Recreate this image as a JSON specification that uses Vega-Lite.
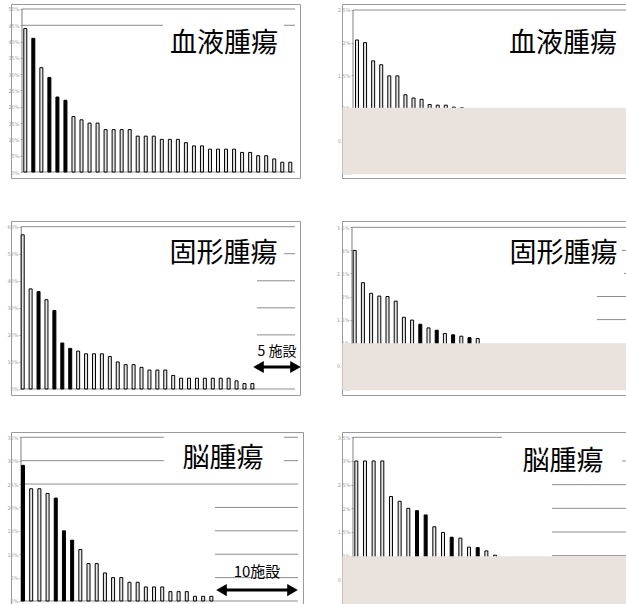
{
 "$schema": "https://vega.github.io/schema/vega-lite/v6.json",
 "padding": {"left": 6, "top": 3, "right": 0, "bottom": 0},
 "background": "white",
 "spacing": 35,
 "datasets": {
  "b1": [{"i":1,"v":44,"k":"w"},{"i":2,"v":41,"k":"b"},{"i":3,"v":32,"k":"w"},{"i":4,"v":29,"k":"b"},{"i":5,"v":23,"k":"b"},{"i":6,"v":22,"k":"b"},{"i":7,"v":17,"k":"w"},{"i":8,"v":16,"k":"w"},{"i":9,"v":15,"k":"w"},{"i":10,"v":15,"k":"w"},{"i":11,"v":13,"k":"w"},{"i":12,"v":13,"k":"w"},{"i":13,"v":13,"k":"w"},{"i":14,"v":13,"k":"w"},{"i":15,"v":11,"k":"w"},{"i":16,"v":11,"k":"w"},{"i":17,"v":11,"k":"w"},{"i":18,"v":10,"k":"w"},{"i":19,"v":10,"k":"w"},{"i":20,"v":10,"k":"w"},{"i":21,"v":9,"k":"w"},{"i":22,"v":8,"k":"w"},{"i":23,"v":8,"k":"w"},{"i":24,"v":7,"k":"w"},{"i":25,"v":7,"k":"w"},{"i":26,"v":7,"k":"w"},{"i":27,"v":7,"k":"w"},{"i":28,"v":6,"k":"w"},{"i":29,"v":6,"k":"w"},{"i":30,"v":5,"k":"w"},{"i":31,"v":5,"k":"w"},{"i":32,"v":4,"k":"w"},{"i":33,"v":3,"k":"w"},{"i":34,"v":3,"k":"w"}],
  "b2": [{"i":1,"v":2.04,"k":"w"},{"i":2,"v":2.0,"k":"w"},{"i":3,"v":1.72,"k":"w"},{"i":4,"v":1.66,"k":"w"},{"i":5,"v":1.49,"k":"w"},{"i":6,"v":1.49,"k":"w"},{"i":7,"v":1.2,"k":"w"},{"i":8,"v":1.15,"k":"w"},{"i":9,"v":1.13,"k":"w"},{"i":10,"v":1.05,"k":"w"},{"i":11,"v":1.04,"k":"w"},{"i":12,"v":1.04,"k":"w"},{"i":13,"v":1.01,"k":"w"},{"i":14,"v":1.0,"k":"w"}],
  "b3": [{"i":1,"v":57,"k":"w"},{"i":2,"v":37,"k":"w"},{"i":3,"v":36,"k":"b"},{"i":4,"v":33,"k":"w"},{"i":5,"v":29,"k":"b"},{"i":6,"v":17,"k":"b"},{"i":7,"v":15,"k":"b"},{"i":8,"v":14,"k":"w"},{"i":9,"v":13,"k":"w"},{"i":10,"v":13,"k":"w"},{"i":11,"v":13,"k":"w"},{"i":12,"v":12,"k":"w"},{"i":13,"v":10,"k":"w"},{"i":14,"v":9,"k":"w"},{"i":15,"v":9,"k":"w"},{"i":16,"v":8,"k":"w"},{"i":17,"v":7,"k":"w"},{"i":18,"v":7,"k":"w"},{"i":19,"v":7,"k":"w"},{"i":20,"v":5,"k":"w"},{"i":21,"v":4,"k":"w"},{"i":22,"v":4,"k":"w"},{"i":23,"v":4,"k":"w"},{"i":24,"v":4,"k":"w"},{"i":25,"v":4,"k":"w"},{"i":26,"v":4,"k":"w"},{"i":27,"v":4,"k":"w"},{"i":28,"v":3,"k":"w"},{"i":29,"v":2,"k":"w"},{"i":30,"v":2,"k":"w"}],
  "b4": [{"i":1,"v":3.0,"k":"w"},{"i":2,"v":2.3,"k":"w"},{"i":3,"v":2.07,"k":"w"},{"i":4,"v":2.01,"k":"w"},{"i":5,"v":2.0,"k":"w"},{"i":6,"v":1.9,"k":"w"},{"i":7,"v":1.55,"k":"w"},{"i":8,"v":1.49,"k":"w"},{"i":9,"v":1.4,"k":"b"},{"i":10,"v":1.32,"k":"w"},{"i":11,"v":1.27,"k":"b"},{"i":12,"v":1.2,"k":"w"},{"i":13,"v":1.17,"k":"b"},{"i":14,"v":1.14,"k":"w"},{"i":15,"v":1.11,"k":"b"},{"i":16,"v":1.09,"k":"w"}],
  "b5": [{"i":1,"v":29,"k":"b"},{"i":2,"v":24,"k":"w"},{"i":3,"v":24,"k":"w"},{"i":4,"v":23,"k":"w"},{"i":5,"v":22,"k":"b"},{"i":6,"v":15,"k":"b"},{"i":7,"v":13,"k":"b"},{"i":8,"v":11,"k":"w"},{"i":9,"v":8,"k":"w"},{"i":10,"v":8,"k":"w"},{"i":11,"v":6,"k":"w"},{"i":12,"v":5,"k":"w"},{"i":13,"v":5,"k":"w"},{"i":14,"v":4,"k":"w"},{"i":15,"v":4,"k":"w"},{"i":16,"v":3,"k":"w"},{"i":17,"v":3,"k":"w"},{"i":18,"v":3,"k":"w"},{"i":19,"v":2,"k":"w"},{"i":20,"v":2,"k":"w"},{"i":21,"v":2,"k":"w"},{"i":22,"v":1,"k":"w"},{"i":23,"v":1,"k":"w"},{"i":24,"v":1,"k":"w"}],
  "b6": [{"i":1,"v":3.0,"k":"w"},{"i":2,"v":3.0,"k":"w"},{"i":3,"v":3.0,"k":"w"},{"i":4,"v":3.0,"k":"w"},{"i":5,"v":2.25,"k":"w"},{"i":6,"v":2.15,"k":"w"},{"i":7,"v":2.0,"k":"w"},{"i":8,"v":1.95,"k":"b"},{"i":9,"v":1.86,"k":"b"},{"i":10,"v":1.61,"k":"w"},{"i":11,"v":1.49,"k":"w"},{"i":12,"v":1.39,"k":"b"},{"i":13,"v":1.37,"k":"w"},{"i":14,"v":1.18,"k":"w"},{"i":15,"v":1.17,"k":"b"},{"i":16,"v":1.1,"k":"w"},{"i":17,"v":1.01,"k":"w"}]
 },
 "vconcat": [
  {"spacing": 41, "vconcat": [
   {"bounds": "flush", "spacing": 42, "hconcat": [
    {"width": 289, "height": 174, "layer": [
     {"data": {"values": [{"v":50,"a":0.589,"b":34.59},{"v":45,"a":0.589,"b":18.15},{"v":45,"a":33.22,"b":34.59},{"v":0,"a":0.589,"b":34.59}]},
      "mark": {"type": "rule", "color": "#8c8c8c", "strokeWidth": 1},
      "encoding": {
       "x": {"field": "a", "type": "quantitative", "scale": {"domain": [-0.78, 35.21], "nice": false, "zero": false, "padding": 0}, "axis": null, "title": null},
       "x2": {"field": "b"},
       "y": {"field": "v", "type": "quantitative", "scale": {"domain": [-1.84, 51.53], "nice": false, "zero": false, "padding": 0}, "axis": {"values": [0,5,10,15,20,25,30,35,40,45,50], "offset": -11, "labelOverlap": false, "labelExpr": "datum.value + '%'", "title": null}}}},
     {"data": {"values": [{}]}, "mark": {"type": "rule", "color": "#808080"},
      "encoding": {"x": {"datum": 0.589, "axis": null}, "y": {"datum": 0, "axis": {"values": [0,5,10,15,20,25,30,35,40,45,50], "offset": -11, "labelOverlap": false, "labelExpr": "datum.value + '%'", "title": null}}, "y2": {"datum": 50}}},
     {"data": {"name": "b1"}, "mark": {"type": "bar", "width": 3, "stroke": "#000", "strokeWidth": 1},
      "encoding": {"x": {"field": "i", "type": "quantitative", "axis": null, "title": null}, "y": {"field": "v", "type": "quantitative", "axis": {"values": [0,5,10,15,20,25,30,35,40,45,50], "offset": -11, "labelOverlap": false, "labelExpr": "datum.value + '%'", "title": null}}, "y2": {"datum": 0},
       "fill": {"field": "k", "type": "nominal", "scale": {"domain": ["w","b"], "range": ["#e6e6e6","#000000"]}, "legend": null}}},
     {"data": {"values": [{"t": "血液腫瘍"}]}, "mark": {"type": "text", "fontSize": 27, "font": "Noto Sans CJK JP", "color": "#000"},
      "encoding": {"x": {"datum": 25.74, "axis": null}, "y": {"datum": 39.26, "axis": {"values": [0,5,10,15,20,25,30,35,40,45,50], "offset": -11, "labelOverlap": false, "labelExpr": "datum.value + '%'", "title": null}}, "text": {"field": "t"}}}
    ]},
    {"width": 287, "height": 174, "layer": [
     {"data": {"values": [{"v":2.5,"a":0.504,"b":34.7}]},
      "mark": {"type": "rule", "color": "#8c8c8c", "strokeWidth": 1},
      "encoding": {
       "x": {"field": "a", "type": "quantitative", "scale": {"domain": [-0.859, 34.7], "nice": false, "zero": false, "padding": 0}, "axis": null, "title": null},
       "x2": {"field": "b"},
       "y": {"field": "v", "type": "quantitative", "scale": {"domain": [-0.077, 2.592], "nice": false, "zero": false, "padding": 0}, "axis": {"values": [0,0.5,1,1.5,2,2.5], "offset": -11, "labelOverlap": false, "labelExpr": "datum.value + '%'", "title": null}}}},
     {"data": {"values": [{}]}, "mark": {"type": "rule", "color": "#808080"},
      "encoding": {"x": {"datum": 0.504, "axis": null}, "y": {"datum": 0, "axis": {"values": [0,0.5,1,1.5,2,2.5], "offset": -11, "labelOverlap": false, "labelExpr": "datum.value + '%'", "title": null}}, "y2": {"datum": 2.5}}},
     {"data": {"name": "b2"}, "mark": {"type": "bar", "width": 3, "stroke": "#000", "strokeWidth": 1},
      "encoding": {"x": {"field": "i", "type": "quantitative", "axis": null, "title": null}, "y": {"field": "v", "type": "quantitative", "axis": {"values": [0,0.5,1,1.5,2,2.5], "offset": -11, "labelOverlap": false, "labelExpr": "datum.value + '%'", "title": null}}, "y2": {"datum": 0},
       "fill": {"field": "k", "type": "nominal", "scale": {"domain": ["w","b"], "range": ["#e6e6e6","#000000"]}, "legend": null}}},
     {"data": {"values": [{}]}, "mark": {"type": "rect", "color": "#eae2dc"},
      "encoding": {"x": {"datum": -0.8, "axis": null}, "x2": {"datum": 34.7}, "y": {"datum": 1.0, "axis": {"values": [0,0.5,1,1.5,2,2.5], "offset": -11, "labelOverlap": false, "labelExpr": "datum.value + '%'", "title": null}}, "y2": {"datum": -0.02}}},
     {"data": {"values": [{"t": "血液腫瘍"}]}, "mark": {"type": "text", "fontSize": 27, "font": "Noto Sans CJK JP", "color": "#000"},
      "encoding": {"x": {"datum": 26.53, "axis": null}, "y": {"datum": 1.979, "axis": {"values": [0,0.5,1,1.5,2,2.5], "offset": -11, "labelOverlap": false, "labelExpr": "datum.value + '%'", "title": null}}, "text": {"field": "t"}}}
    ]}
   ]},
   {"bounds": "flush", "spacing": 42, "hconcat": [
    {"width": 289, "height": 174, "layer": [
     {"data": {"values": [{"v":60,"a":0.82,"b":35.38},{"v":50,"a":34.0,"b":35.38},{"v":40,"a":30.58,"b":35.38},{"v":30,"a":30.58,"b":35.38},{"v":20,"a":30.58,"b":35.38},{"v":0,"a":0.82,"b":35.38}]},
      "mark": {"type": "rule", "color": "#8c8c8c", "strokeWidth": 1},
      "encoding": {
       "x": {"field": "a", "type": "quantitative", "scale": {"domain": [-0.477, 36.01], "nice": false, "zero": false, "padding": 0}, "axis": null, "title": null},
       "x2": {"field": "b"},
       "y": {"field": "v", "type": "quantitative", "scale": {"domain": [-2.22, 62.1], "nice": false, "zero": false, "padding": 0}, "axis": {"values": [0,10,20,30,40,50,60], "offset": -10, "labelOverlap": false, "labelExpr": "datum.value + '%'", "title": null}}}},
     {"data": {"values": [{}]}, "mark": {"type": "rule", "color": "#808080"},
      "encoding": {"x": {"datum": 0.82, "axis": null}, "y": {"datum": 0, "axis": {"values": [0,10,20,30,40,50,60], "offset": -10, "labelOverlap": false, "labelExpr": "datum.value + '%'", "title": null}}, "y2": {"datum": 60}}},
     {"data": {"name": "b3"}, "mark": {"type": "bar", "width": 3, "stroke": "#000", "strokeWidth": 1},
      "encoding": {"x": {"field": "i", "type": "quantitative", "axis": null, "title": null}, "y": {"field": "v", "type": "quantitative", "axis": {"values": [0,10,20,30,40,50,60], "offset": -10, "labelOverlap": false, "labelExpr": "datum.value + '%'", "title": null}}, "y2": {"datum": 0},
       "fill": {"field": "k", "type": "nominal", "scale": {"domain": ["w","b"], "range": ["#e6e6e6","#000000"]}, "legend": null}}},
     {"data": {"values": [{"t": "固形腫瘍"}]}, "mark": {"type": "text", "fontSize": 27, "font": "Noto Sans CJK JP", "color": "#000"},
      "encoding": {"x": {"datum": 26.35, "axis": null}, "y": {"datum": 49.9, "axis": {"values": [0,10,20,30,40,50,60], "offset": -10, "labelOverlap": false, "labelExpr": "datum.value + '%'", "title": null}}, "text": {"field": "t"}}},
     {"data": {"values": [{}]}, "mark": {"type": "rule", "color": "#000", "strokeWidth": 3},
      "encoding": {"x": {"datum": 30.77, "axis": null}, "x2": {"datum": 35.44}, "y": {"datum": 8.13, "axis": {"values": [0,10,20,30,40,50,60], "offset": -10, "labelOverlap": false, "labelExpr": "datum.value + '%'", "title": null}}}},
     {"data": {"values": [{}]}, "mark": {"type": "point", "shape": "triangle-left", "size": 150, "filled": true, "color": "#000", "opacity": 1},
      "encoding": {"x": {"datum": 30.77, "axis": null}, "y": {"datum": 8.13, "axis": {"values": [0,10,20,30,40,50,60], "offset": -10, "labelOverlap": false, "labelExpr": "datum.value + '%'", "title": null}}}},
     {"data": {"values": [{}]}, "mark": {"type": "point", "shape": "triangle-right", "size": 150, "filled": true, "color": "#000", "opacity": 1},
      "encoding": {"x": {"datum": 35.44, "axis": null}, "y": {"datum": 8.13, "axis": {"values": [0,10,20,30,40,50,60], "offset": -10, "labelOverlap": false, "labelExpr": "datum.value + '%'", "title": null}}}},
     {"data": {"values": [{"t": "5 施設"}]}, "mark": {"type": "text", "fontSize": 14, "font": "Noto Sans CJK JP", "color": "#000"},
      "encoding": {"x": {"datum": 33.11, "axis": null}, "y": {"datum": 13.79, "axis": {"values": [0,10,20,30,40,50,60], "offset": -10, "labelOverlap": false, "labelExpr": "datum.value + '%'", "title": null}}, "text": {"field": "t"}}}
    ]},
    {"width": 287, "height": 174, "layer": [
     {"data": {"values": [{"v":3.5,"a":0.67,"b":34.33},{"v":3,"a":33.6,"b":34.33},{"v":2.5,"a":33.84,"b":34.33},{"v":2,"a":30.55,"b":34.33},{"v":1.5,"a":30.55,"b":34.33}]},
      "mark": {"type": "rule", "color": "#8c8c8c", "strokeWidth": 1},
      "encoding": {
       "x": {"field": "a", "type": "quantitative", "scale": {"domain": [-0.549, 34.45], "nice": false, "zero": false, "padding": 0}, "axis": null, "title": null},
       "x2": {"field": "b"},
       "y": {"field": "v", "type": "quantitative", "scale": {"domain": [-0.134, 3.637], "nice": false, "zero": false, "padding": 0}, "axis": {"values": [0,0.5,1,1.5,2,2.5,3,3.5], "offset": -10, "labelOverlap": false, "labelExpr": "datum.value + '%'", "title": null}}}},
     {"data": {"values": [{}]}, "mark": {"type": "rule", "color": "#808080"},
      "encoding": {"x": {"datum": 0.67, "axis": null}, "y": {"datum": 0, "axis": {"values": [0,0.5,1,1.5,2,2.5,3,3.5], "offset": -10, "labelOverlap": false, "labelExpr": "datum.value + '%'", "title": null}}, "y2": {"datum": 3.5}}},
     {"data": {"name": "b4"}, "mark": {"type": "bar", "width": 3, "stroke": "#000", "strokeWidth": 1},
      "encoding": {"x": {"field": "i", "type": "quantitative", "axis": null, "title": null}, "y": {"field": "v", "type": "quantitative", "axis": {"values": [0,0.5,1,1.5,2,2.5,3,3.5], "offset": -10, "labelOverlap": false, "labelExpr": "datum.value + '%'", "title": null}}, "y2": {"datum": 0},
       "fill": {"field": "k", "type": "nominal", "scale": {"domain": ["w","b"], "range": ["#e6e6e6","#000000"]}, "legend": null}}},
     {"data": {"values": [{}]}, "mark": {"type": "rect", "color": "#eae2dc"},
      "encoding": {"x": {"datum": -0.5, "axis": null}, "x2": {"datum": 34.45}, "y": {"datum": 0.99, "axis": {"values": [0,0.5,1,1.5,2,2.5,3,3.5], "offset": -10, "labelOverlap": false, "labelExpr": "datum.value + '%'", "title": null}}, "y2": {"datum": -0.03}}},
     {"data": {"values": [{"t": "固形腫瘍"}]}, "mark": {"type": "text", "fontSize": 27, "font": "Noto Sans CJK JP", "color": "#000"},
      "encoding": {"x": {"datum": 26.46, "axis": null}, "y": {"datum": 2.92, "axis": {"values": [0,0.5,1,1.5,2,2.5,3,3.5], "offset": -10, "labelOverlap": false, "labelExpr": "datum.value + '%'", "title": null}}, "text": {"field": "t"}}}
    ]}
   ]}
  ]},
  {"bounds": "flush", "spacing": 39, "hconcat": [
   {"width": 292, "height": 174, "layer": [
    {"data": {"values": [{"v":35,"a":0.756,"b":18.2},{"v":35,"a":32.87,"b":34.58},{"v":30,"a":0.756,"b":18.2},{"v":30,"a":32.87,"b":34.58},{"v":25,"a":0.756,"b":34.58},{"v":20,"a":24.44,"b":34.58},{"v":15,"a":24.44,"b":34.58},{"v":10,"a":24.44,"b":34.58},{"v":5,"a":24.44,"b":34.58},{"v":0,"a":0.756,"b":34.58}]},
     "mark": {"type": "rule", "color": "#8c8c8c", "strokeWidth": 1},
     "encoding": {
      "x": {"field": "a", "type": "quantitative", "scale": {"domain": [-0.465, 35.19], "nice": false, "zero": false, "padding": 0}, "axis": null, "title": null},
      "x2": {"field": "b"},
      "y": {"field": "v", "type": "quantitative", "scale": {"domain": [-1.07, 36.13], "nice": false, "zero": false, "padding": 0}, "axis": {"values": [0,5,10,15,20,25,30,35], "offset": -10, "labelOverlap": false, "labelExpr": "datum.value + '%'", "title": null}}}},
    {"data": {"values": [{}]}, "mark": {"type": "rule", "color": "#808080"},
     "encoding": {"x": {"datum": 0.756, "axis": null}, "y": {"datum": 0, "axis": {"values": [0,5,10,15,20,25,30,35], "offset": -10, "labelOverlap": false, "labelExpr": "datum.value + '%'", "title": null}}, "y2": {"datum": 35}}},
    {"data": {"name": "b5"}, "mark": {"type": "bar", "width": 3, "stroke": "#000", "strokeWidth": 1},
     "encoding": {"x": {"field": "i", "type": "quantitative", "axis": null, "title": null}, "y": {"field": "v", "type": "quantitative", "axis": {"values": [0,5,10,15,20,25,30,35], "offset": -10, "labelOverlap": false, "labelExpr": "datum.value + '%'", "title": null}}, "y2": {"datum": 0},
      "fill": {"field": "k", "type": "nominal", "scale": {"domain": ["w","b"], "range": ["#e6e6e6","#000000"]}, "legend": null}}},
    {"data": {"values": [{"t": "脳腫瘍"}]}, "mark": {"type": "text", "fontSize": 27, "font": "Noto Sans CJK JP", "color": "#000"},
     "encoding": {"x": {"datum": 25.42, "axis": null}, "y": {"datum": 30.36, "axis": {"values": [0,5,10,15,20,25,30,35], "offset": -10, "labelOverlap": false, "labelExpr": "datum.value + '%'", "title": null}}, "text": {"field": "t"}}},
    {"data": {"values": [{}]}, "mark": {"type": "rule", "color": "#000", "strokeWidth": 3},
     "encoding": {"x": {"datum": 25.24, "axis": null}, "x2": {"datum": 33.91}, "y": {"datum": 2.34, "axis": {"values": [0,5,10,15,20,25,30,35], "offset": -10, "labelOverlap": false, "labelExpr": "datum.value + '%'", "title": null}}}},
    {"data": {"values": [{}]}, "mark": {"type": "point", "shape": "triangle-left", "size": 150, "filled": true, "color": "#000", "opacity": 1},
     "encoding": {"x": {"datum": 25.24, "axis": null}, "y": {"datum": 2.34, "axis": {"values": [0,5,10,15,20,25,30,35], "offset": -10, "labelOverlap": false, "labelExpr": "datum.value + '%'", "title": null}}}},
    {"data": {"values": [{}]}, "mark": {"type": "point", "shape": "triangle-right", "size": 150, "filled": true, "color": "#000", "opacity": 1},
     "encoding": {"x": {"datum": 33.91, "axis": null}, "y": {"datum": 2.34, "axis": {"values": [0,5,10,15,20,25,30,35], "offset": -10, "labelOverlap": false, "labelExpr": "datum.value + '%'", "title": null}}}},
    {"data": {"values": [{"t": "10施設"}]}, "mark": {"type": "text", "fontSize": 15, "font": "Noto Sans CJK JP", "color": "#000"},
     "encoding": {"x": {"datum": 29.57, "axis": null}, "y": {"datum": 6.19, "axis": {"values": [0,5,10,15,20,25,30,35], "offset": -10, "labelOverlap": false, "labelExpr": "datum.value + '%'", "title": null}}, "text": {"field": "t"}}}
   ]},
   {"width": 287, "height": 174, "layer": [
    {"data": {"values": [{"v":3.5,"a":0.62,"b":17.8},{"v":3,"a":31.65,"b":32.34},{"v":2.5,"a":23.57,"b":32.34},{"v":2,"a":23.57,"b":32.34},{"v":1.5,"a":23.57,"b":32.34},{"v":1,"a":23.57,"b":32.34}]},
     "mark": {"type": "rule", "color": "#8c8c8c", "strokeWidth": 1},
     "encoding": {
      "x": {"field": "a", "type": "quantitative", "scale": {"domain": [-0.649, 32.45], "nice": false, "zero": false, "padding": 0}, "axis": null, "title": null},
      "x2": {"field": "b"},
      "y": {"field": "v", "type": "quantitative", "scale": {"domain": [-0.063, 3.612], "nice": false, "zero": false, "padding": 0}, "axis": {"values": [0.5,1,1.5,2,2.5,3,3.5], "offset": -11, "labelOverlap": false, "labelExpr": "datum.value + '%'", "title": null}}}},
    {"data": {"values": [{}]}, "mark": {"type": "rule", "color": "#808080"},
     "encoding": {"x": {"datum": 0.62, "axis": null}, "y": {"datum": 0, "axis": {"values": [0.5,1,1.5,2,2.5,3,3.5], "offset": -11, "labelOverlap": false, "labelExpr": "datum.value + '%'", "title": null}}, "y2": {"datum": 3.5}}},
    {"data": {"name": "b6"}, "mark": {"type": "bar", "width": 3, "stroke": "#000", "strokeWidth": 1},
     "encoding": {"x": {"field": "i", "type": "quantitative", "axis": null, "title": null}, "y": {"field": "v", "type": "quantitative", "axis": {"values": [0.5,1,1.5,2,2.5,3,3.5], "offset": -11, "labelOverlap": false, "labelExpr": "datum.value + '%'", "title": null}}, "y2": {"datum": 0},
      "fill": {"field": "k", "type": "nominal", "scale": {"domain": ["w","b"], "range": ["#e6e6e6","#000000"]}, "legend": null}}},
    {"data": {"values": [{}]}, "mark": {"type": "rect", "color": "#eae2dc"},
     "encoding": {"x": {"datum": -0.6, "axis": null}, "x2": {"datum": 32.45}, "y": {"datum": 0.99, "axis": {"values": [0.5,1,1.5,2,2.5,3,3.5], "offset": -11, "labelOverlap": false, "labelExpr": "datum.value + '%'", "title": null}}, "y2": {"datum": -0.063}}},
    {"data": {"values": [{"t": "脳腫瘍"}]}, "mark": {"type": "text", "fontSize": 27, "font": "Noto Sans CJK JP", "color": "#000"},
     "encoding": {"x": {"datum": 24.84, "axis": null}, "y": {"datum": 2.98, "axis": {"values": [0.5,1,1.5,2,2.5,3,3.5], "offset": -11, "labelOverlap": false, "labelExpr": "datum.value + '%'", "title": null}}, "text": {"field": "t"}}}
   ]}
  ]}
 ],
 "config": {
  "view": {"stroke": "#9a9a9a", "strokeWidth": 1},
  "scale": {"continuousPadding": 0},
  "axisY": {"labelFontSize": 5, "labelColor": "#a0a0a0", "tickSize": 2, "tickColor": "#aaaaaa", "domain": false, "grid": false, "labelPadding": 1, "labelOverlap": false, "labelFont": "DejaVu Sans"}
 }
}
